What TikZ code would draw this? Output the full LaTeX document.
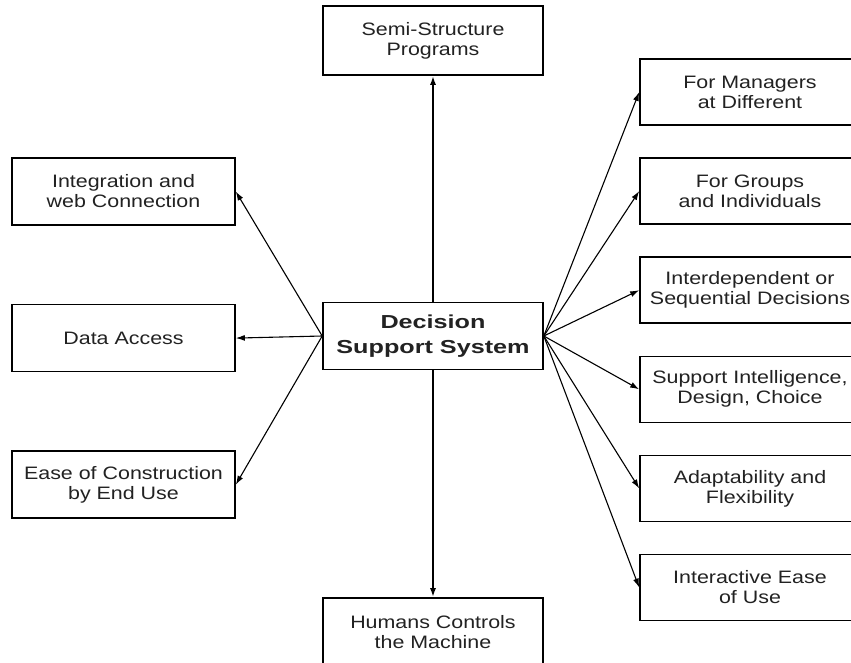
\documentclass[tikz,border=0pt]{standalone}
\usepackage{fontspec}
\setmainfont[FakeStretch=1.19]{Liberation Sans}
\newfontfamily\corefont[FakeStretch=1.34]{Liberation Sans}
\usetikzlibrary{arrows.meta,positioning}
\definecolor{boxtext}{HTML}{222222}
\tikzset{
  featbox/.style={draw=black,line width=1.6pt,minimum width=220pt,minimum height=67pt,inner sep=0pt,align=center,text=boxtext,font=\fontsize{18}{20}\selectfont},
  corebox/.style={featbox,font=\corefont\bfseries\fontsize{18.8}{25}\selectfont},
  link/.style={-{Latex[length=9pt,width=6pt]},line width=1.1pt},
  stem/.style={link,line width=1.8pt}
}

\begin{document}
\begin{tikzpicture}[x=1pt,y=-1pt]
        \useasboundingbox[fill=white] (0,0) rectangle (851,663);
        % centre and vertical axis
        \node[corebox] (dss) at (433,336) {Decision\\Support System};
        \node[featbox,minimum height=69pt] (semi) at (433,40.5) {Semi-Structure\\Programs};
        \node[featbox,minimum height=69pt] (human) at (433,632.5) {Humans Controls\\the Machine};
        % left column
        \node[featbox,minimum width=223pt] (integ) at (123.5,191.5) {Integration and\\web Connection};
        \node[featbox,minimum width=223pt,below=78pt of integ] (data) {Data Access};
        \node[featbox,minimum width=223pt,below=78pt of data] (ease) {Ease of Construction\\by End Use};
        % right column
        \node[featbox,minimum height=66pt] (mgr) at (750,92) {For Managers\\at Different};
        \node[featbox,minimum height=66pt,below=31.5pt of mgr] (grp) {For Groups\\and Individuals};
        \node[featbox,minimum height=66pt,below=31.5pt of grp] (seq) {Interdependent or\\Sequential Decisions};
        \node[featbox,minimum height=66pt,below=31.5pt of seq] (intel) {Support Intelligence,\\Design, Choice};
        \node[featbox,minimum height=66pt,below=31.5pt of intel] (adapt) {Adaptability and\\Flexibility};
        \node[featbox,minimum height=66pt,below=31.5pt of adapt] (inter) {Interactive Ease\\of Use};
        % connectors
        \draw[stem] (dss) -- (semi);
        \draw[stem] (dss) -- (human);
        \foreach \t in {integ,data,ease}
          \draw[link] (dss.west) -- (\t.east);
        \foreach \t in {mgr,grp,seq,intel,adapt,inter}
          \draw[link] (dss.east) -- (\t.west);
      \end{tikzpicture}
\end{document}
